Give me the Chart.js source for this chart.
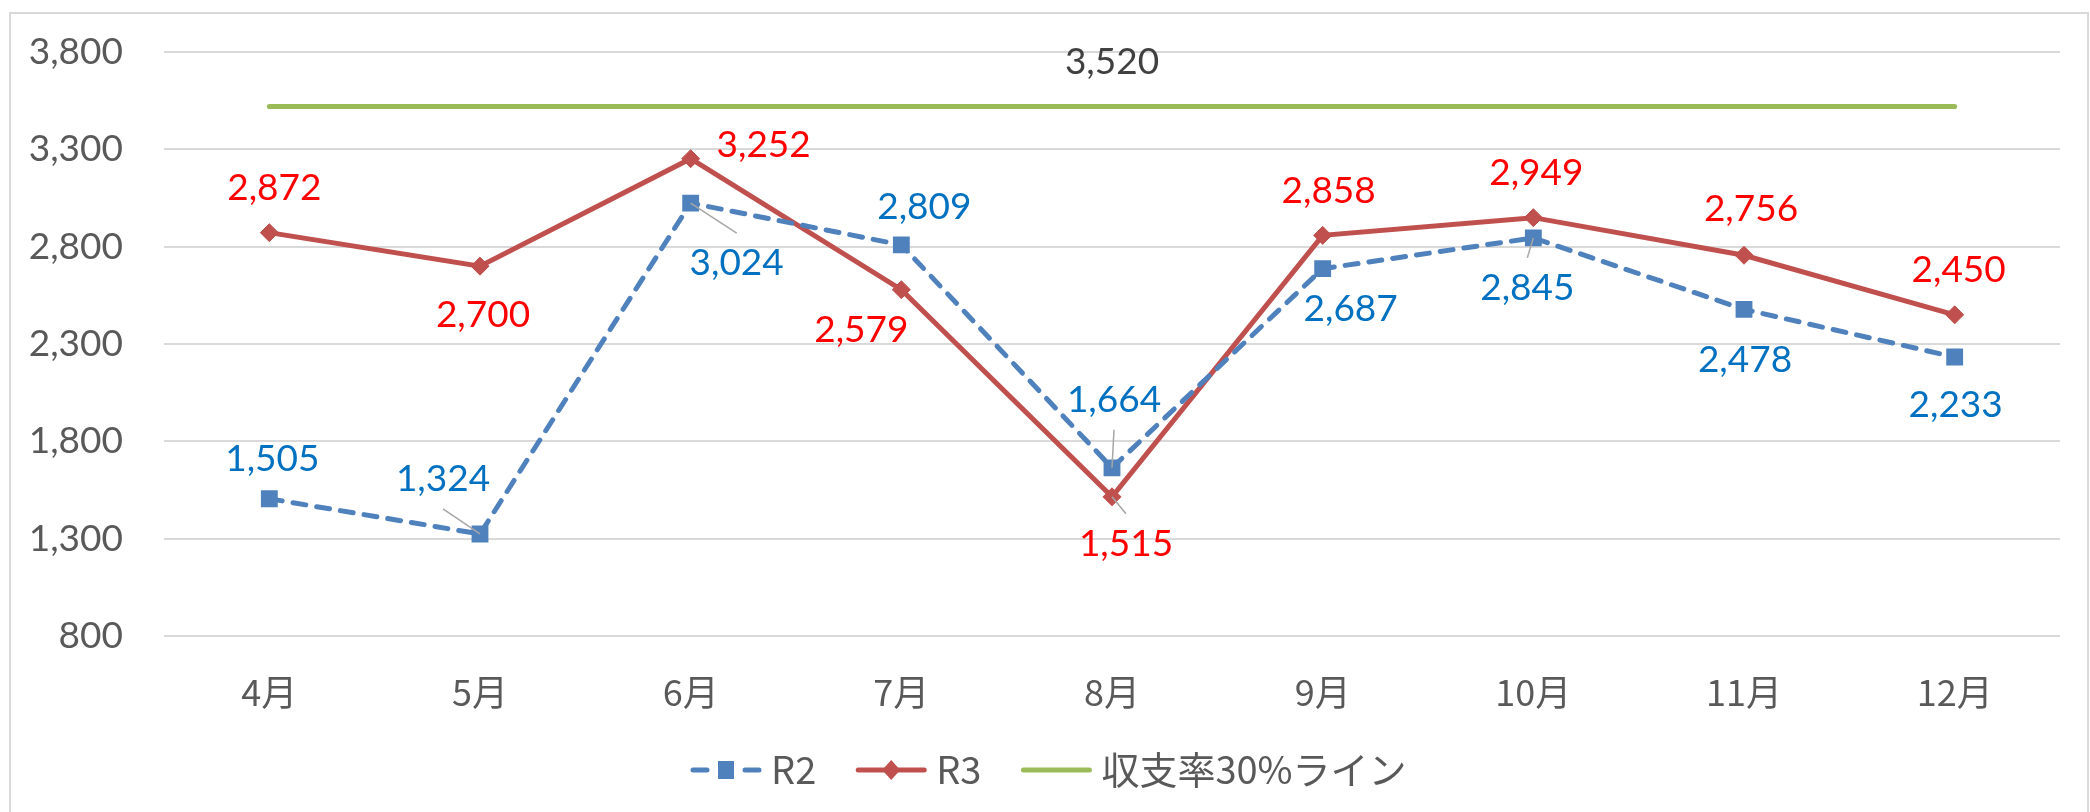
<!DOCTYPE html>
<html>
<head>
<meta charset="utf-8">
<script src="https://cdn.jsdelivr.net/npm/chart.js@4.4.0/dist/chart.umd.min.js"></script>
<style>
    html, body { margin: 0; padding: 0; background: #fff; }
</style>
</head>
<body>
<canvas id="line-chart" width="2090" height="812"></canvas>
<script>
// data
var months = ['4月', '5月', '6月', '7月', '8月', '9月', '10月', '11月', '12月'];
var r2 = [1505, 1324, 3024, 2809, 1664, 2687, 2845, 2478, 2233];
var r3 = [2872, 2700, 3252, 2579, 1515, 2858, 2949, 2756, 2450];
var line30 = [3520, 3520, 3520, 3520, 3520, 3520, 3520, 3520, 3520];
var yMin = 800, yMax = 3800, yStep = 500;
var seriesNames = ['R2', 'R3', '収支率30%ライン'];

// where each value label sits relative to its point (px), and which get a leader line
var r2LabelPos = [[3, -40], [-37, -55], [46, 60], [23, -38], [2, -68], [28, 40], [-6, 50], [1, 51], [1, 48]];
var r2Leader = [0, 1, 1, 0, 1, 0, 1, 0, 0];
var r3LabelPos = [[5, -45], [3, 49], [73, -14], [-40, 40], [14, 47], [6, -44], [3, -45], [7, -46], [4, -45]];
var r3Leader = [0, 0, 0, 0, 1, 0, 0, 0, 0];
var line30LabelPos = [null, null, null, null, [0, -44], null, null, null, null];

var numFont = '37px Lato, "Noto Sans CJK JP", sans-serif';
var grey = '#595959';

function fmt(v) {
    return Number(v).toLocaleString('en-US');
}

/*
*   outer frame like the Excel chart area
*/
var framePlugin = {
    id: 'frame',
    beforeDraw: function(chart) {
        var ctx = chart.ctx;
        ctx.save();
        ctx.fillStyle = '#fff';
        ctx.fillRect(0, 0, chart.width, chart.height);
        ctx.strokeStyle = '#d9d9d9';
        ctx.lineWidth = 2;
        ctx.strokeRect(10, 13, chart.width - 12, chart.height + 20);
        ctx.restore();
    }
};

/*
*   value labels with optional leader lines
*/
var labelPlugin = {
    id: 'valueLabels',
    afterDatasetsDraw: function(chart) {
        var ctx = chart.ctx;
        chart.data.datasets.forEach(function(ds, di) {
            if (!ds.labelPos) return;
            var meta = chart.getDatasetMeta(di);
            meta.data.forEach(function(pt, i) {
                var off = ds.labelPos[i];
                if (!off) return;
                var lx = pt.x + off[0], ly = pt.y + off[1];
                ctx.save();
                if (ds.leader && ds.leader[i]) {
                    var ey = ly + (pt.y > ly ? 30 : -30);
                    ctx.strokeStyle = '#a6a6a6';
                    ctx.lineWidth = 1.5;
                    ctx.beginPath();
                    ctx.moveTo(pt.x, pt.y);
                    ctx.lineTo(lx, ey);
                    ctx.stroke();
                }
                ctx.font = numFont;
                ctx.fillStyle = ds.labelColor;
                ctx.textAlign = 'center';
                ctx.textBaseline = 'middle';
                ctx.fillText(fmt(ds.data[i]), lx, ly);
                ctx.restore();
            });
        });
    }
};

/*
*   legend drawn as line + marker like Excel
*/
var legendPlugin = {
    id: 'excelLegend',
    afterDraw: function(chart) {
        var ctx = chart.ctx;
        var x = 693, y = 770, lineLen = 66;
        ctx.save();
        ctx.font = '38px "Noto Sans CJK JP", sans-serif';
        ctx.textBaseline = 'middle';
        chart.data.datasets.forEach(function(ds) {
            var cx = x + lineLen / 2;
            ctx.save();
            ctx.strokeStyle = ds.borderColor;
            ctx.lineWidth = 5;
            ctx.lineCap = 'round';
            ctx.setLineDash(ds.borderDash ? [14, 38] : []);
            ctx.beginPath();
            ctx.moveTo(x, y);
            ctx.lineTo(x + lineLen, y);
            ctx.stroke();
            ctx.restore();
            if (ds.pointRadius > 0) {
                ctx.fillStyle = ds.backgroundColor;
                ctx.beginPath();
                if (ds.pointStyle === 'rect') {
                    ctx.rect(cx - 8, y - 9, 16, 18);
                } else {
                    ctx.moveTo(cx - 9, y);
                    ctx.lineTo(cx, y - 10);
                    ctx.lineTo(cx + 9, y);
                    ctx.lineTo(cx, y + 10);
                    ctx.closePath();
                }
                ctx.fill();
            }
            var tx = x + lineLen + 12;
            ctx.fillStyle = grey;
            ctx.fillText(ds.label, tx, y);
            x = tx + ctx.measureText(ds.label).width + 42;
        });
        ctx.restore();
    }
};

var ctx = document.getElementById('line-chart').getContext('2d');
var myChart = new Chart(ctx, {
    type: 'line',
    data: {
        labels: months,
        datasets: [{
            label: seriesNames[0],
            data: r2,
            borderColor: '#4f81bd',
            backgroundColor: '#4f81bd',
            borderWidth: 5,
            borderDash: [13, 11],
            borderCapStyle: 'round',
            pointStyle: 'rect',
            pointRadius: 10.5,
            pointBorderWidth: 2,
            labelColor: '#0070c0',
            labelPos: r2LabelPos,
            leader: r2Leader,
            fill: false
        }, {
            label: seriesNames[1],
            data: r3,
            borderColor: '#c0504d',
            backgroundColor: '#c0504d',
            borderWidth: 5,
            pointStyle: 'rectRot',
            pointRadius: 9,
            pointBorderWidth: 1,
            labelColor: '#ff0000',
            labelPos: r3LabelPos,
            leader: r3Leader,
            fill: false
        }, {
            label: seriesNames[2],
            data: line30,
            borderColor: '#9bbb59',
            backgroundColor: '#9bbb59',
            borderWidth: 5,
            borderCapStyle: 'round',
            pointRadius: 0,
            labelColor: '#404040',
            labelPos: line30LabelPos,
            fill: false
        }]
    },
    options: {
        responsive: false,
        animation: false,
        layout: {
            padding: { top: 52, right: 30, left: 0, bottom: 100 }
        },
        plugins: {
            legend: { display: false },
            tooltip: { enabled: false }
        },
        scales: {
            x: {
                offset: true,
                grid: { display: false, drawTicks: false },
                border: { display: false },
                ticks: {
                    color: grey,
                    font: { family: '"Noto Sans CJK JP", sans-serif', size: 36 },
                    padding: 35,
                    maxRotation: 0
                },
                afterFit: function(scale) { scale.height = 76; }
            },
            y: {
                min: yMin,
                max: yMax,
                grid: { color: '#d9d9d9', lineWidth: 2, drawTicks: false },
                border: { display: false },
                ticks: {
                    stepSize: yStep,
                    color: grey,
                    font: { family: 'Lato, sans-serif', size: 37 },
                    padding: 41,
                    callback: function(v) { return fmt(v); }
                },
                afterFit: function(scale) {
                    scale.width = 164;
                    scale.paddingTop = 0;
                    scale.paddingBottom = 0;
                }
            }
        }
    },
    plugins: [framePlugin, labelPlugin, legendPlugin]
});
</script>
</body>
</html>
